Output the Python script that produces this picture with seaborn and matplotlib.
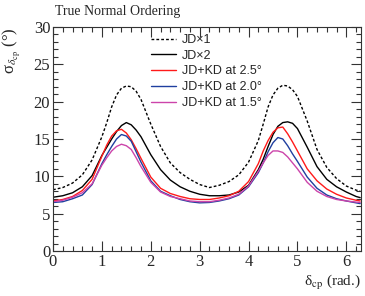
import numpy as np
import pandas as pd
import matplotlib
matplotlib.use("Agg")
import matplotlib.pyplot as plt
from matplotlib.ticker import MultipleLocator
import seaborn as sns

# ---- data ----
delta_cp = [0.0, 0.2, 0.4, 0.6, 0.8, 1.0, 1.1, 1.2, 1.3, 1.4, 1.5, 1.6, 1.7, 1.8,
            2.0, 2.2, 2.4, 2.6, 2.8, 3.0, 3.2, 3.4, 3.6, 3.8, 4.0, 4.2, 4.3, 4.4,
            4.5, 4.6, 4.7, 4.8, 4.9, 5.0, 5.2, 5.4, 5.6, 5.8, 6.0, 6.2, 6.283]

jd_x1 = [8.2, 8.5, 9.1, 10.2, 12.2, 15.3, 17.2, 19.3, 20.9, 21.8, 22.1, 22.0, 21.4, 20.3,
         17.0, 14.0, 11.8, 10.5, 9.6, 8.9, 8.5, 8.8, 9.3, 10.2, 11.9, 14.8, 17.0, 19.3,
         20.9, 21.8, 22.2, 22.1, 21.6, 20.7, 17.4, 13.6, 11.2, 9.7, 8.7, 8.15, 8.05]

jd_x2 = [7.2, 7.4, 7.8, 8.6, 10.1, 12.8, 13.9, 15.0, 16.0, 16.8, 17.2, 16.9, 16.2, 15.3,
         12.9, 10.9, 9.5, 8.6, 8.0, 7.6, 7.4, 7.4, 7.5, 7.9, 8.8, 10.9, 12.3, 14.0,
         15.6, 16.7, 17.2, 17.3, 17.1, 16.4, 13.9, 11.3, 9.6, 8.6, 7.9, 7.3, 7.15]

jdkd_25 = [6.7, 6.9, 7.3, 8.1, 9.6, 12.7, 14.2, 15.4, 16.1, 16.3, 15.8, 14.9, 13.7, 12.4,
           9.9, 8.4, 7.7, 7.3, 7.0, 6.9, 6.9, 7.1, 7.4, 8.0, 9.3, 11.7, 13.4, 14.8,
           15.9, 16.5, 16.6, 15.7, 14.6, 13.4, 11.0, 9.4, 8.3, 7.6, 7.1, 6.8, 6.7]

jdkd_20 = [6.5, 6.6, 7.0, 7.5, 8.9, 11.7, 12.9, 14.0, 15.0, 15.6, 15.4, 14.7, 13.3, 11.9,
           9.4, 8.0, 7.4, 6.9, 6.6, 6.45, 6.5, 6.7, 7.0, 7.5, 8.6, 10.5, 11.8, 13.3,
           14.5, 15.2, 15.0, 14.1, 13.0, 12.0, 9.9, 8.4, 7.5, 7.0, 6.7, 6.45, 6.35]

jdkd_15 = [6.6, 6.8, 7.2, 7.8, 9.0, 11.5, 12.5, 13.4, 14.0, 14.3, 14.1, 13.6, 12.5, 11.3,
           9.2, 7.9, 7.3, 7.0, 6.7, 6.6, 6.6, 6.8, 7.1, 7.6, 8.7, 10.7, 11.8, 12.8,
           13.4, 13.4, 13.2, 12.6, 11.8, 11.0, 9.2, 8.0, 7.3, 6.9, 6.7, 6.55, 6.5]

labels = ["JD\u00d71", "JD\u00d72", "JD+KD at 2.5\u00b0", "JD+KD at 2.0\u00b0", "JD+KD at 1.5\u00b0"]
series = [jd_x1, jd_x2, jdkd_25, jdkd_20, jdkd_15]
colors = ["#000000", "#000000", "#ff1a1a", "#1f3f9f", "#cc44aa"]
styles = [(0, (2, 1.5)), "-", "-", "-", "-"]

# ---- plotting ----
sns.set_style("ticks")
plt.rcParams["font.family"] = ["Liberation Serif", "DejaVu Serif"]
plt.rcParams["font.serif"] = ["Liberation Serif", "DejaVu Serif"]
plt.rcParams["mathtext.fontset"] = "stix"

fig = plt.figure(figsize=(3.65, 2.96), dpi=100)
ax = fig.add_axes([53 / 365, 45 / 296, 308 / 365, 224 / 296])

for lab, vals, col, ls in zip(labels, series, colors, styles):
    df = pd.DataFrame({"x": delta_cp, "y": vals})
    sns.lineplot(data=df, x="x", y="y", ax=ax, color=col, linestyle=ls,
                 linewidth=1.0, label=lab, estimator=None, sort=False)

ax.set_xlim(0, 6.3)
ax.set_ylim(0, 30)
ax.xaxis.set_major_locator(MultipleLocator(1))
ax.xaxis.set_minor_locator(MultipleLocator(0.2))
ax.yaxis.set_major_locator(MultipleLocator(5))
ax.yaxis.set_minor_locator(MultipleLocator(1))
ax.tick_params(which="both", direction="in", top=True, right=True,
               labelsize=12, width=0.8, color="#333333",
               labelfontfamily="Liberation Serif")
ax.tick_params(which="major", length=7)
ax.tick_params(which="minor", length=3.5)
ax.tick_params(axis="x", pad=2.5)
ax.tick_params(axis="y", pad=2)
for sp in ax.spines.values():
    sp.set_linewidth(0.8)
    sp.set_color("#333333")
ax.set_xlabel("")
ax.set_ylabel("")

leg = ax.legend(loc="upper left", bbox_to_anchor=(151 / 365, 1 - 34 / 296),
                bbox_transform=fig.transFigure, frameon=False,
                prop={"family": "Liberation Sans", "size": 9},
                handlelength=2.0, handletextpad=0.5, labelspacing=0.3,
                borderpad=0, borderaxespad=0)

fig.text(55 / 365, 1 - 12 / 296, "True Normal Ordering", ha="left", va="center",
         fontsize=10)
fig.text(12 / 365, 1 - 27 / 296, r"σ$_{\delta_{\rm cp}}$ (°)", rotation=90,
         ha="center", va="top", fontsize=12)
fig.text(361 / 365, 1 - 283 / 296, r"δ$_{\rm cp}$ (rad.)", ha="right", va="center",
         fontsize=11)

fig.savefig("out.png", dpi=100)
